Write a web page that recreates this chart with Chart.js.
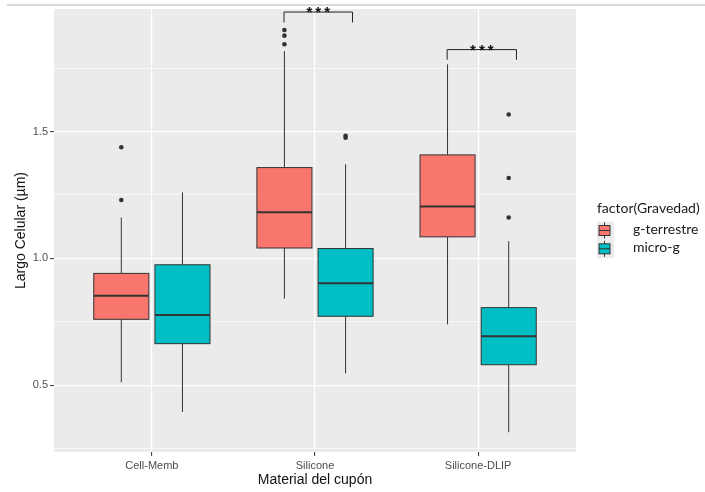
<!DOCTYPE html>
<html>
<head>
<meta charset="utf-8">
<script src="https://cdn.jsdelivr.net/npm/chart.js@4.4.0/dist/chart.umd.min.js"></script>
<style>
  body { margin: 0; background: #fff; }
  #wrap { position: relative; width: 705px; height: 492px; }
  #topline { position: absolute; left: 7px; right: 0; top: 4px; height: 2px; background: #dadada; }
  #chart { position: absolute; left: 0; top: 0; }
</style>
</head>
<body>
<div id="wrap">
  <div id="topline"></div>
  <canvas id="chart" width="705" height="492"></canvas>
</div>
<script>
// categories and tick labels
const categories = ['Cell-Memb', 'Silicone', 'Silicone-DLIP'];
const yTicks = [0.5, 1.0, 1.5];
const yMinorTicks = [0.25, 0.75, 1.25, 1.75];

// g-terrestre boxplot stats
const terrWhiskLow = [0.512, 0.841, 0.740];
const terrQ1 = [0.760, 1.041, 1.085];
const terrMedian = [0.853, 1.182, 1.205];
const terrQ3 = [0.941, 1.358, 1.408];
const terrWhiskHigh = [1.161, 1.817, 1.765];
const terrOutliers = [[1.438, 1.230], [1.900, 1.878, 1.844], []];

// micro-g boxplot stats
const microWhiskLow = [0.395, 0.547, 0.315];
const microQ1 = [0.664, 0.772, 0.581];
const microMedian = [0.777, 0.902, 0.693];
const microQ3 = [0.975, 1.039, 0.806];
const microWhiskHigh = [1.260, 1.371, 1.068];
const microOutliers = [[], [1.483, 1.476], [1.567, 1.317, 1.161]];

// significance brackets
const sigLeft = [1.81, 2.81];
const sigRight = [2.23, 3.235];
const sigY = [1.971, 1.823];
const sigTip = [1.93, 1.783];
const sigLabel = ['***', '***'];

const RED = '#F8766D';
const TEAL = '#00BFC4';
const DODGE = 0.1875;
const BOX_W = 0.3375;
const AXIS_FONT = "'Liberation Sans', Arial, sans-serif";

const groups = [
  { name: 'g-terrestre', fill: RED, offset: -DODGE, low: terrWhiskLow, q1: terrQ1, med: terrMedian, q3: terrQ3, high: terrWhiskHigh },
  { name: 'micro-g', fill: TEAL, offset: DODGE, low: microWhiskLow, q1: microQ1, med: microMedian, q3: microQ3, high: microWhiskHigh }
];

const outlierPoints = (outs, offset) =>
  outs.flatMap((vals, i) => vals.map(v => ({ x: i + 1 + offset, y: v })));

const boxPlugin = {
  id: 'boxes',
  beforeDraw(chart) {
    const { ctx, chartArea: a } = chart;
    ctx.save();
    ctx.fillStyle = '#EBEBEB';
    ctx.fillRect(a.left, a.top, a.right - a.left, a.bottom - a.top);
    ctx.restore();
  },
  beforeDatasetsDraw(chart) {
    const { ctx, scales: { x, y } } = chart;
    const half = (x.getPixelForValue(BOX_W) - x.getPixelForValue(0)) / 2;
    ctx.save();
    groups.forEach(g => {
      categories.forEach((c, i) => {
        const cx = x.getPixelForValue(i + 1 + g.offset);
        const yLow = y.getPixelForValue(g.low[i]);
        const yQ1 = y.getPixelForValue(g.q1[i]);
        const yMed = y.getPixelForValue(g.med[i]);
        const yQ3 = y.getPixelForValue(g.q3[i]);
        const yHigh = y.getPixelForValue(g.high[i]);
        ctx.strokeStyle = '#333';
        ctx.lineWidth = 1;
        ctx.beginPath();
        ctx.moveTo(cx, yHigh); ctx.lineTo(cx, yQ3);
        ctx.moveTo(cx, yQ1); ctx.lineTo(cx, yLow);
        ctx.stroke();
        ctx.fillStyle = g.fill;
        ctx.fillRect(cx - half, yQ3, half * 2, yQ1 - yQ3);
        ctx.strokeRect(cx - half, yQ3, half * 2, yQ1 - yQ3);
        ctx.lineWidth = 2;
        ctx.beginPath();
        ctx.moveTo(cx - half, yMed); ctx.lineTo(cx + half, yMed);
        ctx.stroke();
      });
    });
    ctx.restore();
  },
  afterDraw(chart) {
    const { ctx, scales: { x, y }, chartArea: a } = chart;
    ctx.save();
    // significance brackets
    ctx.strokeStyle = '#222';
    ctx.lineWidth = 1;
    sigY.forEach((v, i) => {
      const x1 = x.getPixelForValue(sigLeft[i]);
      const x2 = x.getPixelForValue(sigRight[i]);
      const yb = y.getPixelForValue(v);
      const yt = y.getPixelForValue(sigTip[i]);
      ctx.beginPath();
      ctx.moveTo(x1, yt); ctx.lineTo(x1, yb); ctx.lineTo(x2, yb); ctx.lineTo(x2, yt);
      ctx.stroke();
      ctx.fillStyle = '#111';
      ctx.font = 'bold 15px ' + AXIS_FONT;
      ctx.letterSpacing = '3px';
      ctx.textAlign = 'center';
      ctx.textBaseline = 'alphabetic';
      ctx.fillText(sigLabel[i], (x1 + x2) / 2 + 1.5, yb + 5);
    });
    ctx.letterSpacing = '0px';
    // legend
    const lx = a.right + 21;
    ctx.fillStyle = '#1a1a1a';
    ctx.font = "14px Lato, sans-serif";
    ctx.textAlign = 'left';
    ctx.textBaseline = 'middle';
    ctx.fillText('factor(Gravedad)', lx, 208);
    groups.forEach((g, i) => {
      const top = 221.5 + i * 18.3;
      const cy = top + 9;
      const cx = lx + 7.5;
      ctx.fillStyle = '#EBEBEB';
      ctx.fillRect(lx, top, 17, 18.3);
      ctx.strokeStyle = '#333';
      ctx.lineWidth = 1;
      ctx.beginPath();
      ctx.moveTo(cx, top + 1); ctx.lineTo(cx, top + 17);
      ctx.stroke();
      ctx.fillStyle = g.fill;
      ctx.fillRect(cx - 5.5, cy - 5, 11, 10);
      ctx.strokeRect(cx - 5.5, cy - 5, 11, 10);
      ctx.beginPath();
      ctx.moveTo(cx - 5.5, cy); ctx.lineTo(cx + 5.5, cy);
      ctx.stroke();
      ctx.fillStyle = '#1a1a1a';
      ctx.fillText(g.name, lx + 36, cy - 1);
    });
    ctx.restore();
  }
};

new Chart(document.getElementById('chart'), {
  type: 'scatter',
  data: {
    datasets: [
      { label: 'g-terrestre', data: outlierPoints(terrOutliers, -DODGE), backgroundColor: '#333', borderWidth: 0, pointRadius: 2.3 },
      { label: 'micro-g', data: outlierPoints(microOutliers, DODGE), backgroundColor: '#333', borderWidth: 0, pointRadius: 2.3 }
    ]
  },
  options: {
    responsive: false,
    animation: false,
    devicePixelRatio: 1,
    events: [],
    layout: { padding: { top: 9, right: 129, left: 0, bottom: 0 } },
    plugins: { legend: { display: false }, tooltip: { enabled: false } },
    scales: {
      x: {
        type: 'linear', min: 0.4, max: 3.6,
        afterBuildTicks: s => { s.ticks = categories.map((c, i) => ({ value: i + 1 })); },
        afterFit: s => { s.height = 40; },
        ticks: { callback: v => categories[v - 1], autoSkip: false, maxRotation: 0, color: '#4d4d4d', font: { size: 11, family: AXIS_FONT }, padding: 3 },
        grid: { color: '#fff', lineWidth: 1.2, tickLength: 4, tickColor: '#333', tickWidth: 1 },
        border: { display: false },
        title: { display: true, text: 'Material del cupón', color: '#111', font: { size: 14, family: AXIS_FONT }, padding: { top: 0, bottom: 3 } }
      },
      y: {
        type: 'linear', min: 0.237, max: 1.983,
        afterBuildTicks: s => { s.ticks = yMinorTicks.concat(yTicks).sort((a, b) => a - b).map(v => ({ value: v })); },
        afterFit: s => { s.width = 54; },
        ticks: { callback: v => yTicks.includes(v) ? v.toFixed(1) : '', autoSkip: false, color: '#4d4d4d', font: { size: 11, family: AXIS_FONT }, padding: 2 },
        grid: {
          color: '#fff',
          lineWidth: c => yTicks.includes(c.tick.value) ? 1.2 : 0.6,
          tickLength: 4,
          tickColor: c => yTicks.includes(c.tick.value) ? '#333' : 'rgba(0,0,0,0)',
          tickWidth: 1
        },
        border: { display: false },
        title: { display: true, text: 'Largo Celular (µm)', color: '#111', font: { size: 14, family: AXIS_FONT }, padding: { top: 13, bottom: 0 } }
      }
    }
  },
  plugins: [boxPlugin]
});
</script>
</body>
</html>
